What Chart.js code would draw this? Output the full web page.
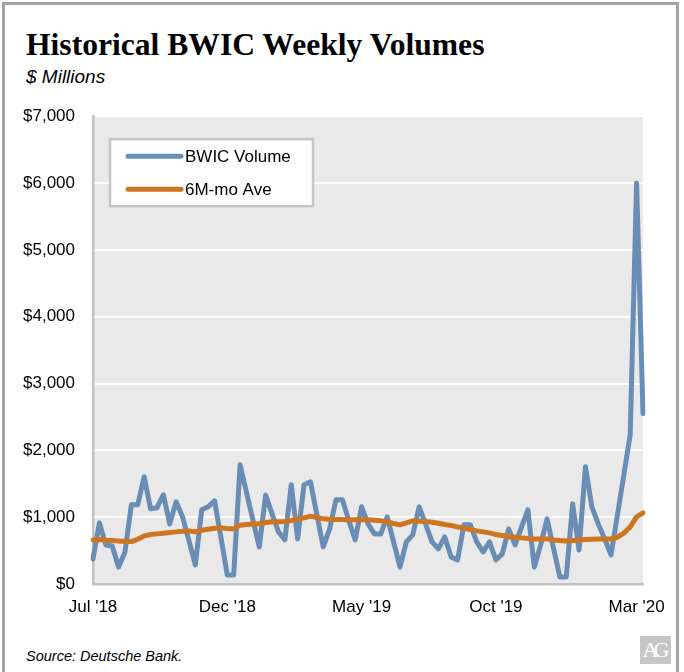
<!DOCTYPE html>
<html>
<head>
<meta charset="utf-8">
<title>Historical BWIC Weekly Volumes</title>
<script src="https://cdn.jsdelivr.net/npm/chart.js@4.4.1/dist/chart.umd.min.js"></script>
<style>
  html, body { margin: 0; padding: 0; background: #fff; }
  body { width: 684px; height: 672px; position: relative; overflow: hidden; }
  .frame {
    position: absolute; left: 2px; top: 2px; width: 677px; height: 700px;
    border: 3px solid #a3a3a3; box-sizing: border-box;
  }
  .title {
    position: absolute; left: 26px; top: 27px; margin: 0;
    font: bold 31.6px "Liberation Serif", "Times New Roman", serif; color: #000;
  }
  .subtitle {
    position: absolute; left: 26px; top: 66px;
    font: italic 19px "Liberation Sans", Arial, sans-serif; color: #000;
  }
  .source {
    position: absolute; left: 26px; top: 648px;
    font: italic 14.5px "Liberation Sans", Arial, sans-serif; color: #000;
  }
  .logo {
    position: absolute; left: 640px; top: 636px; width: 31px; height: 28px;
    background: #c6c6c6; color: #fff; text-align: center;
    font: 22px/28px "Liberation Serif", serif; letter-spacing: -5px; text-indent: -4px;
  }
  #chartBox { position: absolute; left: 0; top: 88px; width: 684px; height: 532px; }
</style>
</head>
<body>
<div class="frame"></div>
<h1 class="title">Historical BWIC Weekly Volumes</h1>
<div class="subtitle">$ Millions</div>
<div id="chartBox"><canvas id="bwicChart"></canvas></div>
<div class="source">Source: Deutsche Bank.</div>
<div class="logo">AG</div>

<script>
// weekly BWIC volume, $ millions (Jul 2018 - Mar 2020)
const volume = [
  375, 915, 585, 570, 255, 480, 1185, 1185, 1605, 1125,
  1140, 1335, 900, 1230, 1005, 650, 285, 1110, 1155, 1245,
  700, 135, 135, 1785, 1370, 960, 555, 1330, 1050, 780,
  660, 1485, 675, 1485, 1530, 1040, 555, 825, 1260, 1260,
  950, 660, 1155, 900, 750, 750, 1005, 630, 255, 630,
  735, 1155, 900, 630, 525, 705, 405, 360, 885, 885,
  630, 480, 630, 360, 450, 825, 585, 850, 1110, 255,
  585, 975, 540, 105, 105, 1200, 510, 1755, 1155, 900,
  675, 435, 1030, 1630, 2235, 6000, 2550
];

// 6-month moving average
const movingAvg = [
  660, 665, 655, 650, 645, 635, 635, 670, 720, 740,
  750, 760, 770, 780, 790, 795, 780, 805, 820, 835,
  840, 830, 825, 880, 890, 895, 900, 920, 930, 930,
  935, 950, 970, 990, 1015, 995, 975, 970, 965, 965,
  960, 960, 960, 960, 955, 945, 930, 905, 885, 915,
  945, 940, 935, 925, 910, 890, 875, 855, 835, 815,
  795, 780, 765, 740, 725, 710, 700, 690, 680, 675,
  675, 675, 660, 650, 645, 650, 660, 665, 670, 675,
  675, 675, 700, 760, 855, 1005, 1065
];

const weeks = volume.map((v, i) => i);

// month labels and the week they sit on
const tickWeeks = [0, 21, 42, 63, 85];
const tickText = ["Jul '18", "Dec '18", "May '19", "Oct '19", "Mar '20"];

const seriesNames = ['BWIC Volume', '6M-mo Ave'];
const seriesColors = ['#6a8db6', '#cd761f'];

const FONT = '"Liberation Sans", Arial, sans-serif';

// grey plot background
const plotBg = {
  id: 'plotBg',
  beforeDraw(chart) {
    const { ctx, chartArea: a } = chart;
    ctx.save();
    ctx.fillStyle = '#e8e9e8';
    ctx.fillRect(a.left, a.top, a.right - a.left, a.bottom - a.top);
    ctx.restore();
  }
};

// boxed legend in the upper left of the plot
const boxLegend = {
  id: 'boxLegend',
  afterDraw(chart) {
    const { ctx, chartArea: a } = chart;
    const x = a.left + 17, y = a.top + 23, w = 203, h = 67;
    ctx.save();
    ctx.fillStyle = '#fff';
    ctx.fillRect(x, y, w, h);
    ctx.strokeStyle = '#c6c6c6';
    ctx.lineWidth = 2.5;
    ctx.strokeRect(x, y, w, h);
    chart.data.datasets.forEach((ds, i) => {
      const ly = y + 17 + i * 33;
      ctx.strokeStyle = ds.borderColor;
      ctx.lineWidth = 5;
      ctx.lineCap = 'round';
      ctx.beginPath();
      ctx.moveTo(x + 18, ly);
      ctx.lineTo(x + 71, ly);
      ctx.stroke();
      ctx.fillStyle = '#000';
      ctx.font = '17px ' + FONT;
      ctx.textBaseline = 'middle';
      ctx.fillText(ds.label, x + 75, ly + 1);
    });
    ctx.restore();
  }
};

const ctx = document.getElementById('bwicChart').getContext('2d');
new Chart(ctx, {
  type: 'line',
  data: {
    labels: weeks,
    datasets: [
      {
        label: seriesNames[0],
        data: volume,
        borderColor: seriesColors[0],
        borderWidth: 5,
        order: 1
      },
      {
        label: seriesNames[1],
        data: movingAvg,
        borderColor: seriesColors[1],
        borderWidth: 5,
        order: 0
      }
    ]
  },
  options: {
    responsive: true,
    maintainAspectRatio: false,
    animation: false,
    elements: {
      point: { radius: 0 },
      line: { tension: 0, borderJoinStyle: 'round', borderCapStyle: 'round' }
    },
    layout: { padding: { top: 13, right: 41, left: 0, bottom: 0 } },
    plugins: {
      legend: { display: false },
      tooltip: { enabled: false }
    },
    scales: {
      x: {
        grid: { display: false, drawTicks: false },
        border: { color: '#c3c3c3', width: 2.5 },
        afterFit(scale) { scale.height = 36; },
        ticks: {
          autoSkip: false,
          maxRotation: 0,
          padding: 13,
          color: '#000',
          font: { family: FONT, size: 17 },
          callback(value, index) {
            const k = tickWeeks.indexOf(index);
            return k >= 0 ? tickText[k] : '';
          }
        }
      },
      y: {
        min: 0,
        max: 7000,
        grid: { color: '#ffffff', lineWidth: 2, drawTicks: false },
        border: { color: '#c3c3c3', width: 2.5 },
        afterFit(scale) { scale.width = 93; },
        ticks: {
          stepSize: 1000,
          padding: 18,
          color: '#000',
          font: { family: FONT, size: 17 },
          callback: (v) => '$' + v.toLocaleString('en-US')
        }
      }
    }
  },
  plugins: [plotBg, boxLegend]
});
</script>
</body>
</html>
